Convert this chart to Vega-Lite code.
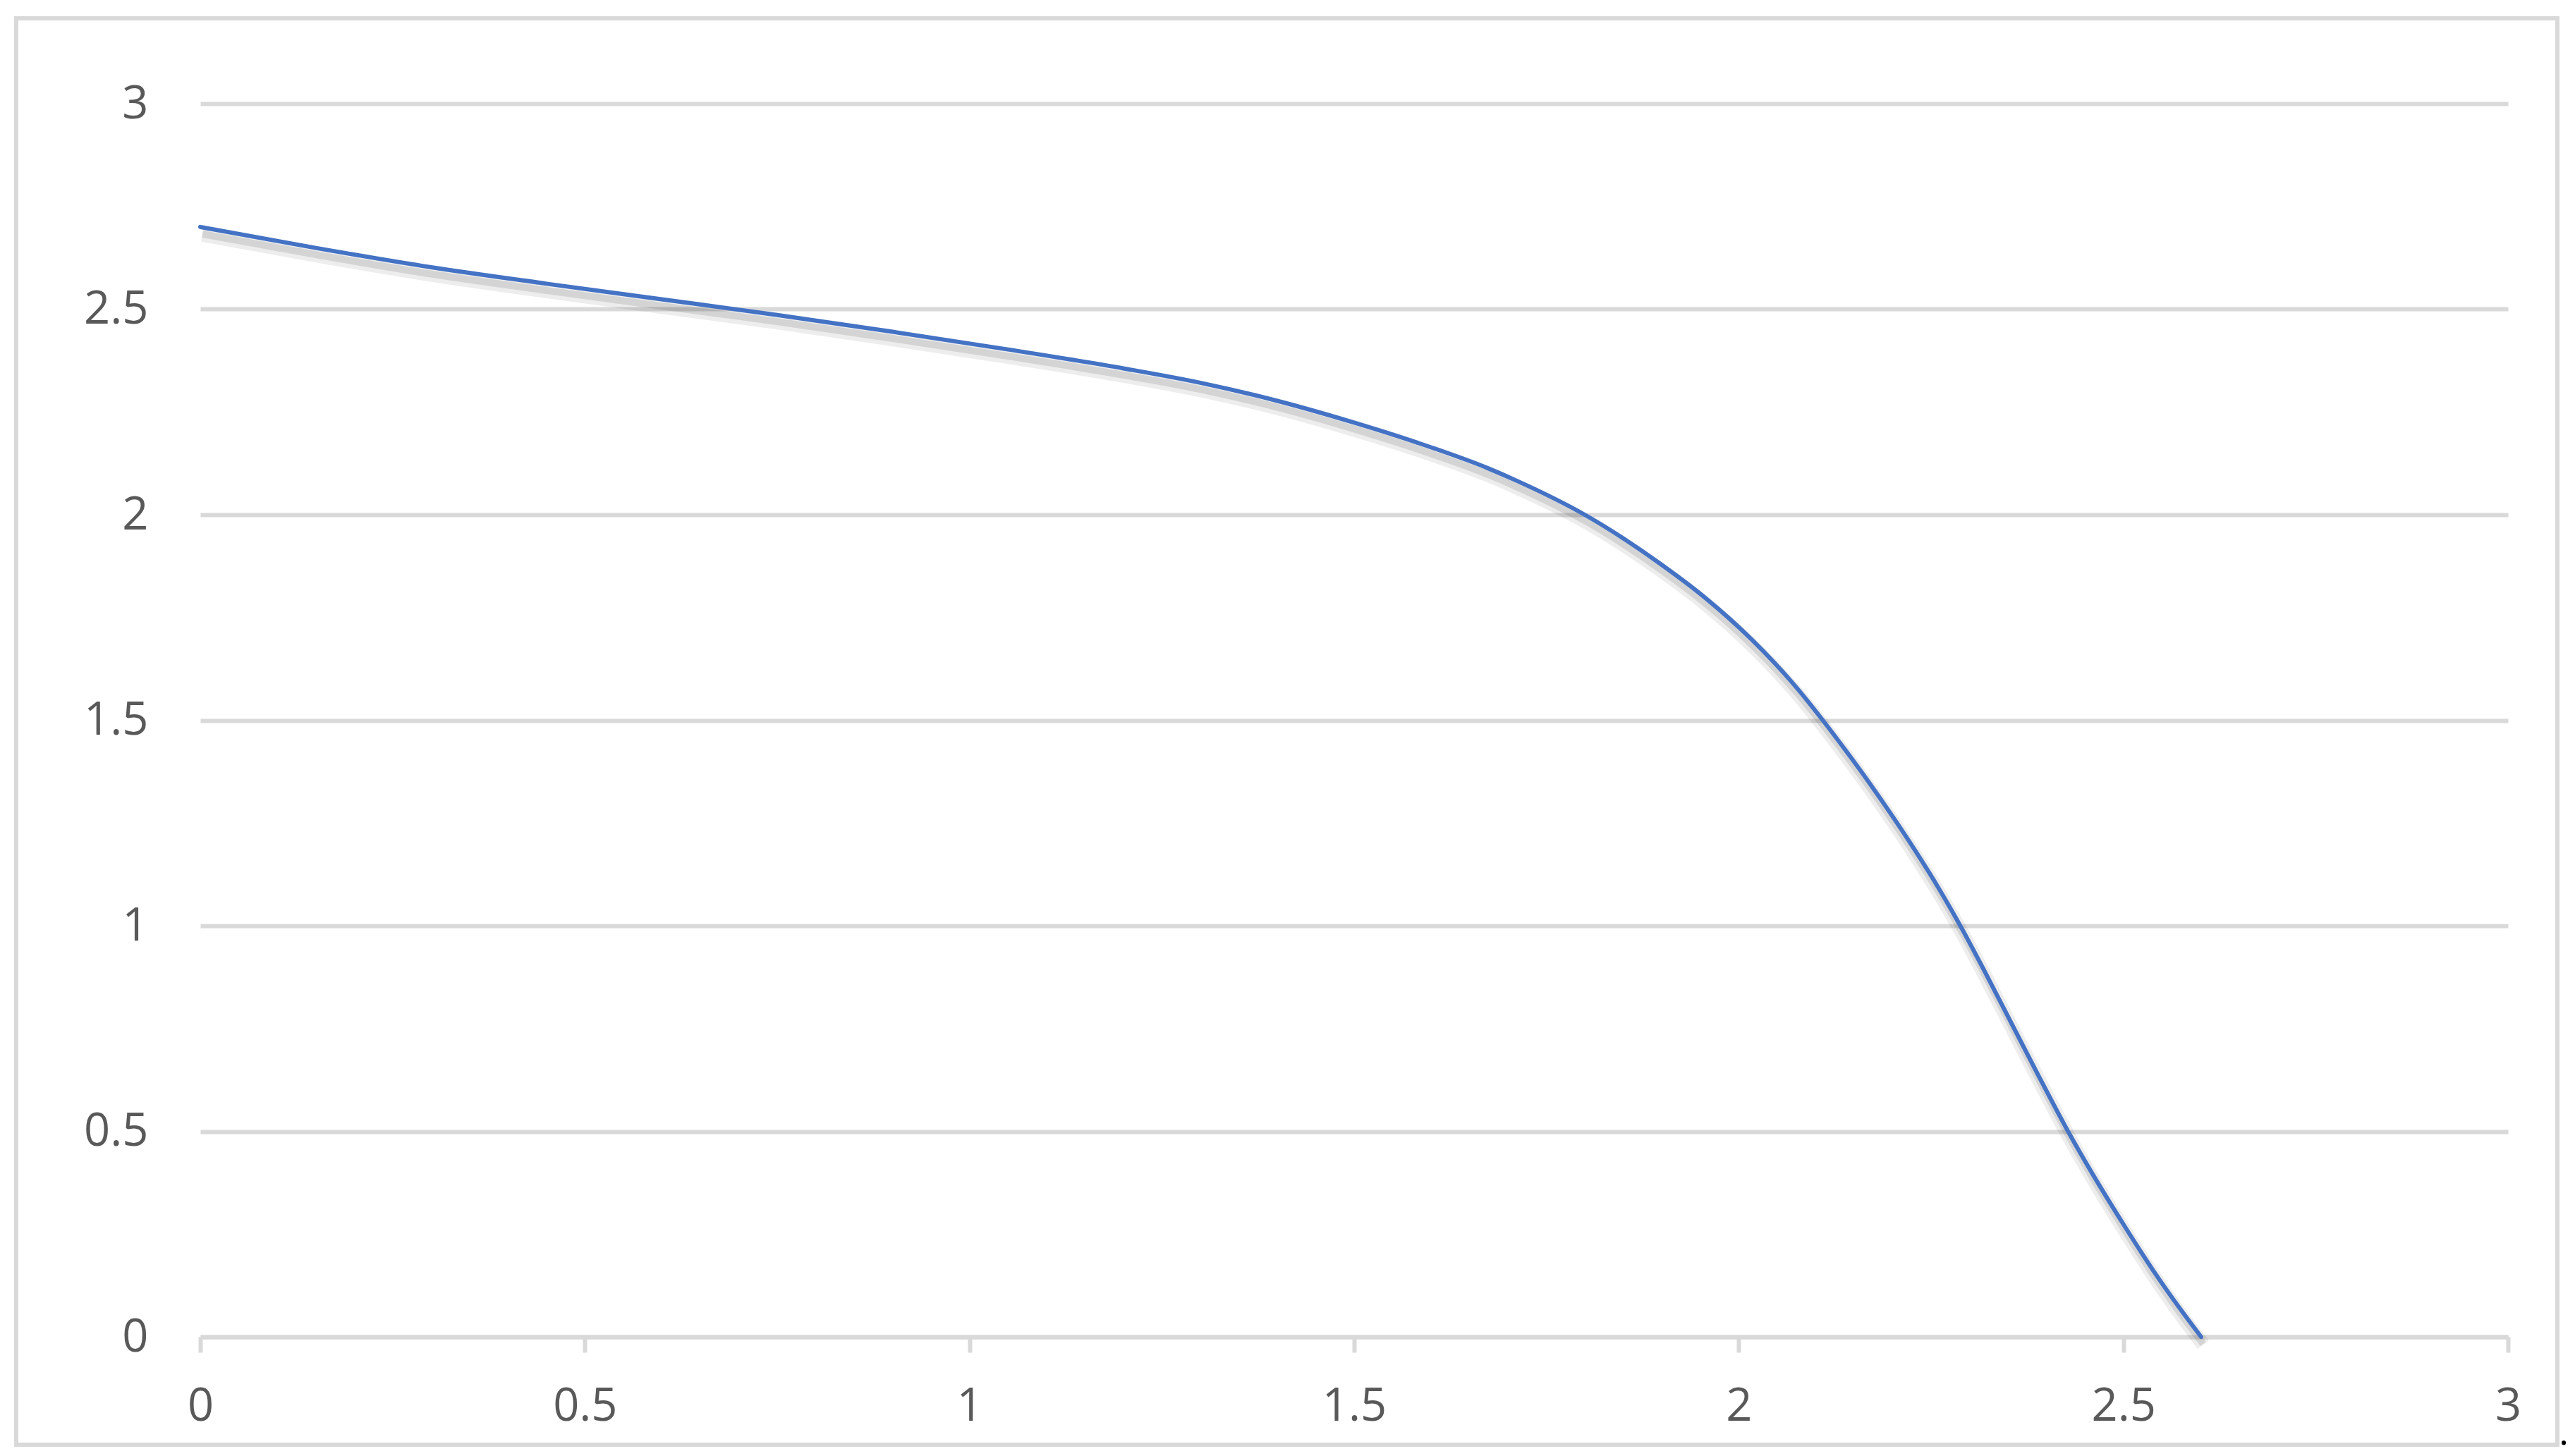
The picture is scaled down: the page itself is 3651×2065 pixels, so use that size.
{
  "$schema": "https://vega.github.io/schema/vega-lite/v6.json",
  "width": 3272,
  "height": 1749,
  "autosize": {"type": "none"},
  "padding": {"left": 284, "top": 147, "right": 95, "bottom": 169},
  "background": "white",
  "config": {"view": {"stroke": null}, "font": "Open Sans"},
  "layer": [
    {
      "data": {"values": [{}]},
      "mark": {"type": "rect", "fill": null, "stroke": "#d9d9d9", "strokeWidth": 6, "clip": false},
      "encoding": {
        "x": {"datum": -0.2393, "type": "quantitative"},
        "x2": {"datum": 3.0642},
        "y": {"datum": 3.2075, "type": "quantitative"},
        "y2": {"datum": -0.2624}
      }
    },
    {
      "data": {
        "values": [
          {"x": 0, "y": 2.700},
          {"x": 0.15, "y": 2.649},
          {"x": 0.3, "y": 2.602},
          {"x": 0.45, "y": 2.562},
          {"x": 0.6, "y": 2.524},
          {"x": 0.75, "y": 2.486},
          {"x": 0.9, "y": 2.445},
          {"x": 1.05, "y": 2.402},
          {"x": 1.2, "y": 2.356},
          {"x": 1.3, "y": 2.321},
          {"x": 1.4, "y": 2.277},
          {"x": 1.5, "y": 2.224},
          {"x": 1.581, "y": 2.176},
          {"x": 1.674, "y": 2.113},
          {"x": 1.711, "y": 2.083},
          {"x": 1.8026, "y": 1.997},
          {"x": 1.894, "y": 1.886},
          {"x": 1.955, "y": 1.800},
          {"x": 2.0165, "y": 1.697},
          {"x": 2.0776, "y": 1.574},
          {"x": 2.108, "y": 1.503},
          {"x": 2.14, "y": 1.424},
          {"x": 2.17, "y": 1.347},
          {"x": 2.2, "y": 1.266},
          {"x": 2.23, "y": 1.181},
          {"x": 2.26, "y": 1.091},
          {"x": 2.288, "y": 1.0},
          {"x": 2.32, "y": 0.888},
          {"x": 2.355, "y": 0.761},
          {"x": 2.39, "y": 0.634},
          {"x": 2.428, "y": 0.5},
          {"x": 2.46, "y": 0.396},
          {"x": 2.5, "y": 0.274},
          {"x": 2.54, "y": 0.158},
          {"x": 2.575, "y": 0.065},
          {"x": 2.601, "y": 0}
        ]
      },
      "encoding": {
        "x": {
          "field": "x",
          "type": "quantitative",
          "scale": {"domain": [0, 3], "nice": false, "zero": false},
          "axis": {
            "values": [0, 0.5, 1, 1.5, 2, 2.5, 3],
            "format": "~g",
            "title": null,
            "grid": false,
            "domain": true,
            "domainColor": "#d9d9d9",
            "domainWidth": 6,
            "ticks": true,
            "tickColor": "#d9d9d9",
            "tickWidth": 6,
            "tickSize": 22,
            "labelFontSize": 65,
            "labelColor": "#595959",
            "labelPadding": 45,
            "labelFlush": false,
            "labelOverlap": false
          }
        },
        "y": {
          "field": "y",
          "type": "quantitative",
          "scale": {"domain": [0, 3], "nice": false, "zero": false},
          "axis": {
            "values": [0, 0.5, 1, 1.5, 2, 2.5, 3],
            "format": "~g",
            "title": null,
            "grid": true,
            "gridColor": "#d9d9d9",
            "gridWidth": 6,
            "domain": false,
            "ticks": false,
            "labelFontSize": 65,
            "labelColor": "#595959",
            "labelPadding": 74,
            "labelOverlap": false
          }
        }
      },
      "layer": [
        {
          "mark": {"type": "line", "interpolate": "monotone", "stroke": "#000000", "strokeWidth": 20, "strokeOpacity": 0.07, "xOffset": 3, "yOffset": 11}
        },
        {
          "mark": {"type": "line", "interpolate": "monotone", "stroke": "#000000", "strokeWidth": 10, "strokeOpacity": 0.1, "xOffset": 3, "yOffset": 10}
        },
        {
          "mark": {"type": "line", "interpolate": "monotone", "stroke": "#4472C4", "strokeWidth": 6, "strokeCap": "round"}
        }
      ]
    },
    {
      "data": {"values": [{}]},
      "mark": {"type": "text", "text": ".", "fontSize": 52, "color": "#000000", "align": "center", "baseline": "alphabetic", "clip": false},
      "encoding": {
        "x": {"datum": 3.0725, "type": "quantitative"},
        "y": {"datum": -0.2624, "type": "quantitative"}
      }
    }
  ]
}
